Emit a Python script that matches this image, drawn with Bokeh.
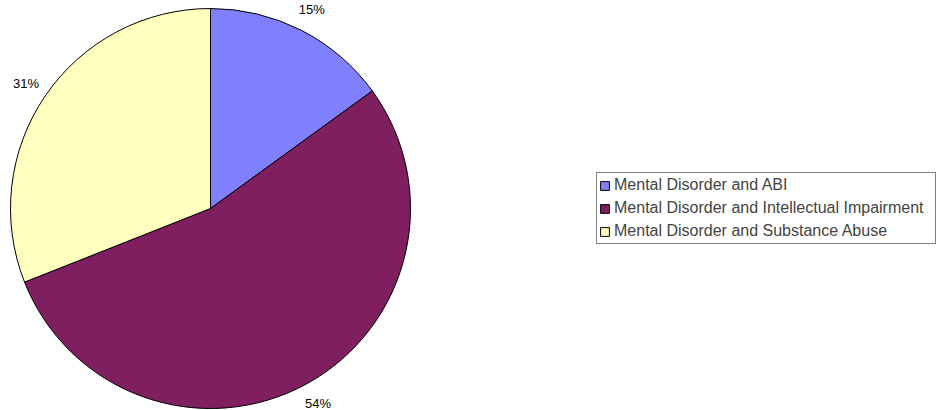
import math
from bokeh.plotting import figure
from bokeh.models import Legend, LegendItem, ColumnDataSource
from bokeh.core.properties import value
from bokeh.embed import file_html
from bokeh.resources import INLINE

categories = ["Mental Disorder and ABI",
              "Mental Disorder and Intellectual Impairment",
              "Mental Disorder and Substance Abuse"]
shares = [15, 54, 31]
colors = ["#8080FF", "#7F1F5F", "#FFFFC0"]

W, H = 936, 410
cx, cy, R = 210, H - 208, 200
label_r = 223

total = sum(shares)
starts, ends, lx, ly, texts = [], [], [], [], []
acc = 0
for s in shares:
    a0 = math.pi / 2 - 2 * math.pi * acc / total
    a1 = math.pi / 2 - 2 * math.pi * (acc + s) / total
    starts.append(a0)
    ends.append(a1)
    mid = (a0 + a1) / 2
    lx.append(cx + label_r * math.cos(mid))
    ly.append(cy + label_r * math.sin(mid))
    texts.append(f"{round(100 * s / total)}%")
    acc += s

p = figure(width=W, height=H, x_range=(0, W), y_range=(0, H),
           output_backend="svg", toolbar_location=None, min_border=0)
p.axis.visible = False
p.grid.visible = False
p.outline_line_color = None
p.background_fill_color = "white"

items = []
for i in range(len(shares)):
    src = ColumnDataSource(dict(x=[cx], y=[cy], s=[starts[i]], e=[ends[i]]))
    r = p.wedge(x="x", y="y", radius=R, start_angle="s", end_angle="e",
                direction="clock", fill_color=colors[i], line_color="black",
                line_width=1, source=src)
    items.append(LegendItem(label=categories[i], renderers=[r]))

p.text(x=lx, y=ly, text=texts, text_align="center", text_baseline="middle",
       text_font=value("Liberation Sans"), text_font_size="13px", text_color="black")

legend = Legend(items=items, location=(596, 166), orientation="vertical",
                label_text_font="Liberation Sans", label_text_font_size="16px",
                glyph_width=11, glyph_height=11, label_height=20, label_width=319,
                label_standoff=4, spacing=3, padding=2, margin=0,
                border_line_color="black", border_line_width=1,
                background_fill_color="white", background_fill_alpha=1)
p.add_layout(legend, "center")

open("out.html", "w").write(file_html(p, INLINE))
